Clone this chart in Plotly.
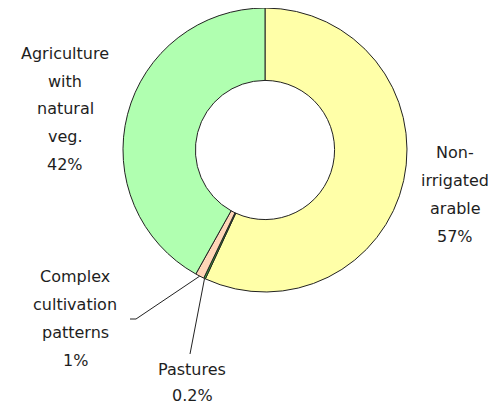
import math
import plotly.graph_objects as go

# page has an 8px body margin, so the figure is drawn 8px in from the corner
PAD = 8
W, H = 496 - 2 * PAD, 412 - 2 * PAD

# slices, clockwise from 12 o'clock
labels = ["Non-irrigated arable", "Pastures", "Complex cultivation patterns", "Agriculture with natural veg."]
values = [56.9, 0.2, 1.0, 41.9]
pct_text = ["57%", "0.2%", "1%", "42%"]
colors = ["#FFFFA8", "#3DB83D", "#FFD6B8", "#B0FFB0"]

# label lines as drawn next to the donut
label_lines = [
    ["Non-", "irrigated", "arable"],
    ["Pastures"],
    ["Complex", "cultivation", "patterns"],
    ["Agriculture", "with", "natural", "veg."],
]


def px(x):
    return (x - PAD) / W


def py(y):
    return 1 - (y - PAD) / H


# pie placement in page pixels
cx, cy, r = 265, 150, 142
fig = go.Figure(go.Pie(
    labels=labels, values=values, sort=False, direction="clockwise",
    hole=0.49, textinfo="none", hoverinfo="label+percent",
    marker=dict(colors=colors, line=dict(color="#222222", width=1)),
    domain=dict(x=[px(cx - r), px(cx + r)], y=[max(0, py(cy + r)), min(1, py(cy - r))]),
    showlegend=False,
))

font = dict(family="DejaVu Sans, Arial, sans-serif", size=16, color="#1e1e1e")
# (center x, first line y, line step) in page pixels for each label block
anchors = [(455, 152, 28), (192, 369, 26), (75, 276, 28), (65, 53, 28)]

annotations = []
for lines, pct, (ax, ay, step) in zip(label_lines, pct_text, anchors):
    for i, t in enumerate(lines + [pct]):
        annotations.append(dict(
            x=px(ax), y=py(ay + i * step), xref="paper", yref="paper",
            text=t, showarrow=False, font=font, xanchor="center", yanchor="middle",
        ))


def edge_point(idx):
    total = sum(values)
    start = sum(values[:idx])
    mid = (start + values[idx] / 2) / total * 2 * math.pi
    return cx + r * math.sin(mid), cy - r * math.cos(mid)


line = dict(color="#222222", width=1)
shapes = []
# Pastures leader
ex, ey = edge_point(1)
shapes.append(dict(type="line", xref="paper", yref="paper",
                   x0=px(ex), y0=py(ey), x1=px(190), y1=py(354), line=line))
# Complex cultivation leader with short stub
ex, ey = edge_point(2)
shapes.append(dict(type="line", xref="paper", yref="paper",
                   x0=px(ex), y0=py(ey), x1=px(136), y1=py(319), line=line))
shapes.append(dict(type="line", xref="paper", yref="paper",
                   x0=px(136), y0=py(319), x1=px(130), y1=py(319), line=line))

fig.update_layout(
    width=W, height=H, margin=dict(l=0, r=0, t=0, b=0),
    paper_bgcolor="white", plot_bgcolor="white",
    annotations=annotations, shapes=shapes,
)
fig.write_html("out.html")
